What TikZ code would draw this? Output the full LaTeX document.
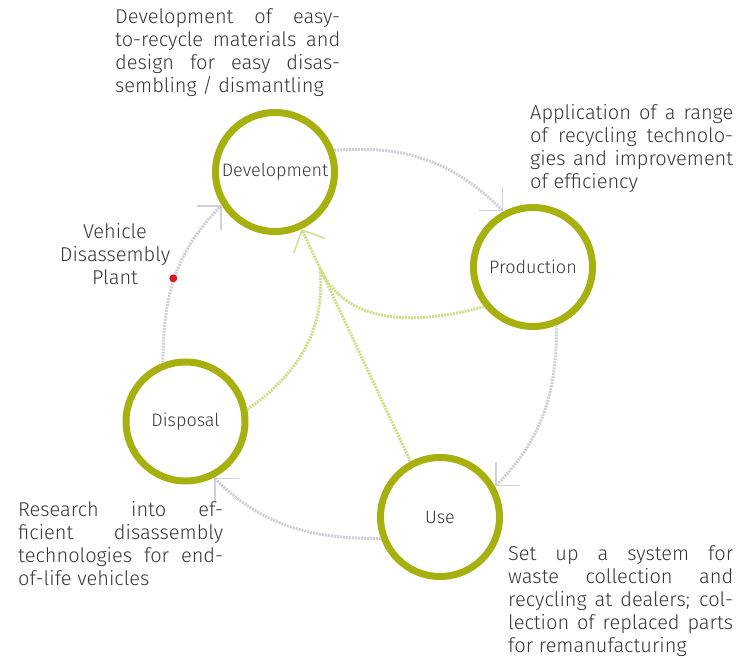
\documentclass[tikz,border=0pt]{standalone}
\usepackage{fontspec}
\setmainfont{Fira Sans}[UprightFont={* Light}]
\usetikzlibrary{arrows.meta}
\usetikzlibrary{calc}
\definecolor{ringgreen}{RGB}{166,177,16}
\definecolor{arrowgrey}{RGB}{208,208,218}
\definecolor{arrowgreen}{RGB}{206,224,140}
\definecolor{notegrey}{RGB}{55,55,55}
\definecolor{dotred}{RGB}{215,25,35}
\newcommand\fullline[1]{{\spaceskip=0pt\xspaceskip=0pt\makebox[\linewidth][s]{#1}}\\}

\begin{document}
\begin{tikzpicture}[x=1pt,y=1pt,
    ring/.style={circle,draw=ringgreen,line width=7pt,fill=white,minimum size=119pt,inner sep=0pt,text=notegrey,font=\fontsize{18}{21}\selectfont},
    cyclearrow/.style={draw=arrowgrey,line width=3pt,dash pattern=on 2pt off 1pt,-{Straight Barb[length=17pt,width=34pt,line width=1.5pt]}},
    feedarrow/.style={cyclearrow,draw=arrowgreen},
    feedline/.style={draw=arrowgreen,line width=3pt,dash pattern=on 2pt off 1pt},
    note/.style={inner sep=0pt,text=notegrey,font=\fontsize{20}{23}\selectfont,align=justify,anchor=base west,text width=#1}]
    \useasboundingbox (0,0) rectangle (744,657);
    \node[ring] (dev) at (275,485) {Development};
    \node[ring] (prod) at (533,390) {Production};
    \node[ring] (use) at (440,140) {Use};
    \node[ring] (disp) at (185.5,235.5) {Disposal};

    \draw[cyclearrow] (dev.20) to[out=5,in=135] (prod.118);
    \draw[cyclearrow] (prod.-68) to[out=-90,in=45] (use.29);
    \draw[cyclearrow] (use.200) to[out=180,in=-45] (disp.-63);
    \draw[cyclearrow] (disp.111) to[out=90,in=225] (dev.212);

    \coordinate (merge) at ($(use.118)!0.83!(dev.-65)$);
    \draw[feedarrow] (use.118) -- (dev.-65);
    \draw[feedline] (prod.219) to[out=195,in=-65] (merge);
    \draw[feedline] (disp.11) to[out=35,in=-85] (merge);

    \node[circle,fill=dotred,minimum size=8pt,inner sep=0pt] (plantdot) at (173.3,378.7) {};
    \node[note=130pt,anchor=base,align=center] (plantnote) at (115,418.7) {Vehicle\\Disassembly\\Plant};

    \node[note=225pt] (devnote) at (115,633) {\fullline{Development of easy-}\fullline{to-recycle materials and}\fullline{design for easy disas-}sembling / dismantling};
    \node[note=203pt] (prodnote) at (530,537.7) {\fullline{Application of a range}\fullline{of recycling technolo-}\fullline{gies and improvement}of efficiency};
    \node[note=205pt] (dispnote) at (18,140.3) {\fullline{Research into ef-}\fullline{ficient disassembly}\fullline{technologies for end-}of-life vehicles};
    \node[note=225pt] (usenote) at (508,97) {\fullline{Set up a system for}\fullline{waste collection and}\fullline{recycling at dealers; col-}\fullline{lection of replaced parts}for remanufacturing};
\end{tikzpicture}
\end{document}
